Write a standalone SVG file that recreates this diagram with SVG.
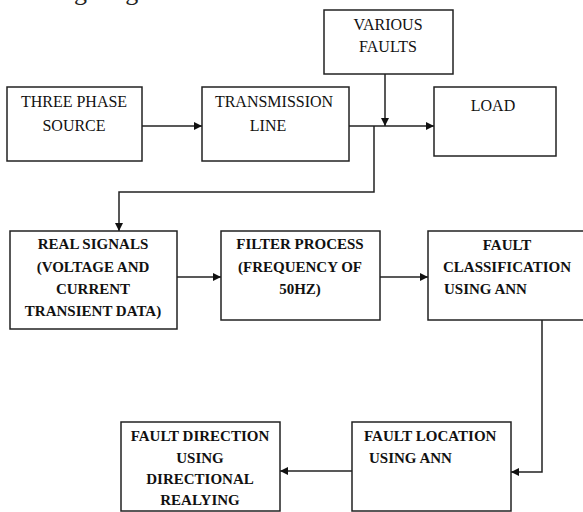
<svg xmlns="http://www.w3.org/2000/svg" width="583" height="512" viewBox="0 0 583 512">
  <style>
    .box { fill: #ffffff; stroke: #222222; stroke-width: 1.5; }
    .wire { fill: none; stroke: #222222; stroke-width: 1.5; }
    .t { font-family: "Liberation Serif", "Times New Roman", serif; font-size: 16px; fill: #111111; }
    .b { font-family: "Liberation Serif", "Times New Roman", serif; font-size: 15px; font-weight: bold; fill: #111111; }
    .c { text-anchor: middle; }
  </style>
  <defs>
    <marker id="arrow" viewBox="0 0 10 10" refX="10" refY="5" markerWidth="8" markerHeight="8" markerUnits="userSpaceOnUse" orient="auto">
      <path d="M0,0 L10,5 L0,10 z" fill="#111111"/>
    </marker>
  </defs>
  <rect width="583" height="512" fill="#ffffff"/>

  <!-- running text above the figure, cut by the top edge -->
  <text x="-14" y="0" font-family="'Liberation Serif', serif" font-size="26" fill="#222222">following diagram is shown.</text>

  <g id="connectors">
    <line class="wire" x1="142" y1="126" x2="202" y2="126" marker-end="url(#arrow)"/>
    <line class="wire" x1="349" y1="126" x2="434" y2="126" marker-end="url(#arrow)"/>
    <line class="wire" x1="385" y1="74" x2="385" y2="126" marker-end="url(#arrow)"/>
    <polyline class="wire" points="374,126 374,192 119,192 119,231" marker-end="url(#arrow)"/>
    <line class="wire" x1="177" y1="277" x2="221" y2="277" marker-end="url(#arrow)"/>
    <line class="wire" x1="380" y1="277" x2="428" y2="277" marker-end="url(#arrow)"/>
    <polyline class="wire" points="542,320 542,472 511,472" marker-end="url(#arrow)"/>
    <line class="wire" x1="352" y1="471" x2="280" y2="471" marker-end="url(#arrow)"/>
  </g>

  <g id="source">
    <rect class="box" x="7" y="87" width="135" height="74"/>
    <text class="t c" x="74" y="107">THREE PHASE</text>
    <text class="t c" x="74" y="131">SOURCE</text>
  </g>

  <g id="transmission-line">
    <rect class="box" x="202" y="87" width="147" height="74"/>
    <text class="t c" x="274" y="107">TRANSMISSION</text>
    <text class="t c" x="268" y="131">LINE</text>
  </g>

  <g id="faults">
    <rect class="box" x="324" y="10" width="129" height="64"/>
    <text class="t c" x="388" y="30">VARIOUS</text>
    <text class="t c" x="388" y="52">FAULTS</text>
  </g>

  <g id="load">
    <rect class="box" x="434" y="87" width="122" height="69"/>
    <text class="t c" x="493" y="111" font-size="19">LOAD</text>
  </g>

  <g id="real-signals">
    <rect class="box" x="10" y="231" width="167" height="98"/>
    <text class="b c" x="93" y="249">REAL SIGNALS</text>
    <text class="b c" x="93" y="272">(VOLTAGE AND</text>
    <text class="b c" x="93" y="294">CURRENT</text>
    <text class="b c" x="93" y="316">TRANSIENT DATA)</text>
  </g>

  <g id="filter">
    <rect class="box" x="221" y="231" width="159" height="89"/>
    <text class="b c" x="300" y="249">FILTER PROCESS</text>
    <text class="b c" x="300" y="272">(FREQUENCY OF</text>
    <text class="b c" x="300" y="294">50HZ)</text>
  </g>

  <g id="classification">
    <rect class="box" x="428" y="231" width="158" height="89"/>
    <text class="b c" x="507" y="250">FAULT</text>
    <text class="b" x="443" y="272">CLASSIFICATION</text>
    <text class="b" x="444" y="294">USING ANN</text>
  </g>

  <g id="location">
    <rect class="box" x="352" y="422" width="159" height="89"/>
    <text class="b" x="364" y="441">FAULT LOCATION</text>
    <text class="b" x="369" y="463">USING ANN</text>
  </g>

  <g id="direction">
    <rect class="box" x="121" y="422" width="159" height="89"/>
    <text class="b c" x="200" y="441">FAULT DIRECTION</text>
    <text class="b c" x="200" y="463">USING</text>
    <text class="b c" x="200" y="484">DIRECTIONAL</text>
    <text class="b c" x="200" y="505">REALYING</text>
  </g>
</svg>
